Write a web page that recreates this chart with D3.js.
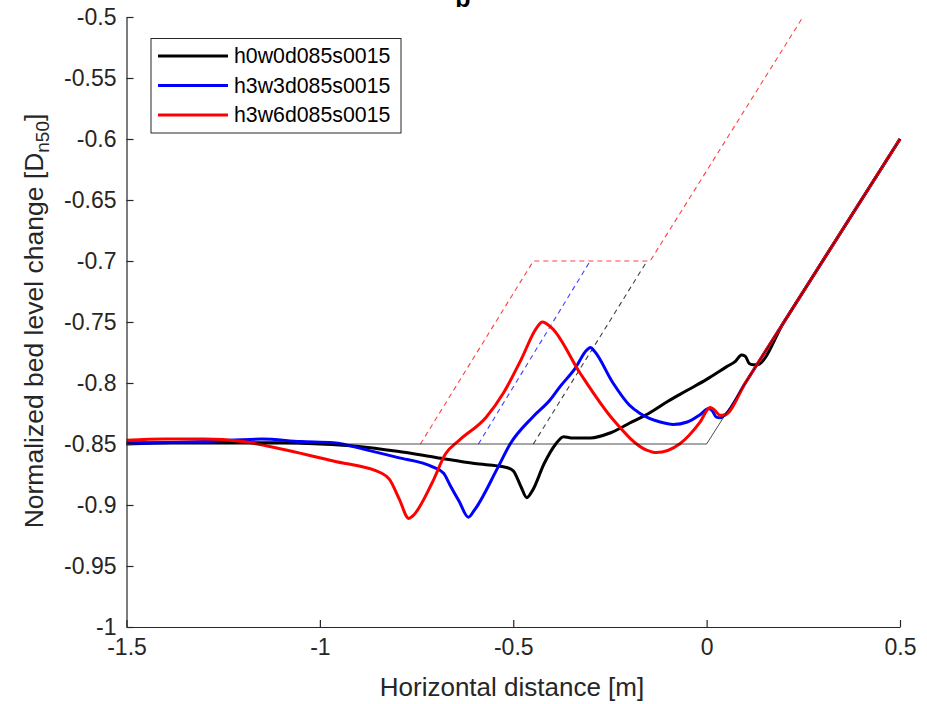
<!DOCTYPE html>
<html><head><meta charset="utf-8">
<script src="https://cdn.jsdelivr.net/npm/d3@7/dist/d3.min.js"></script>
<style>
body{margin:0;background:#fff}
text{font-family:"Liberation Sans",Arial,Helvetica,sans-serif}
</style>
</head><body>
<svg id="chart" width="927" height="704"></svg>
<script>
// ---- data ----
const seriesNames = ["h0w0d085s0015", "h3w3d085s0015", "h3w6d085s0015"];
const seriesColors = ["#000000", "#0000ff", "#ff0000"];

const xBlack = [-1.5,-1.3,-1.1,-1.0,-0.9,-0.8,-0.7,-0.6,-0.52,-0.5,-0.48,-0.465,-0.45,-0.42,-0.39,-0.37,-0.35,-0.3,-0.25,-0.2,-0.15,-0.1,-0.05,0.0,0.05,0.075,0.09,0.1,0.11,0.12,0.13,0.2,0.3,0.4,0.5];
const yBlack = [-0.849,-0.849,-0.849,-0.850,-0.852,-0.856,-0.861,-0.866,-0.869,-0.872,-0.885,-0.894,-0.888,-0.866,-0.850,-0.844,-0.845,-0.845,-0.841,-0.833,-0.825,-0.815,-0.806,-0.797,-0.787,-0.782,-0.777,-0.778,-0.784,-0.785,-0.785,-0.75,-0.70,-0.65,-0.6];

const xBlue = [-1.5,-1.3,-1.15,-1.05,-0.965,-0.877,-0.8,-0.707,-0.68,-0.663,-0.64,-0.616,-0.6,-0.541,-0.508,-0.45,-0.405,-0.379,-0.34,-0.31,-0.3,-0.29,-0.242,-0.2,-0.172,-0.12,-0.086,-0.05,-0.017,0.005,0.015,0.025,0.035,0.048,0.1,0.2,0.3,0.4,0.5];
const yBlue = [-0.850,-0.848,-0.846,-0.848,-0.849,-0.855,-0.861,-0.869,-0.874,-0.884,-0.897,-0.910,-0.904,-0.870,-0.850,-0.828,-0.814,-0.803,-0.788,-0.773,-0.771,-0.774,-0.800,-0.818,-0.825,-0.832,-0.834,-0.832,-0.826,-0.821,-0.823,-0.828,-0.8285,-0.826,-0.80,-0.75,-0.70,-0.65,-0.6];

const xRed = [-1.5,-1.4,-1.3,-1.2,-1.13,-0.965,-0.84,-0.82,-0.795,-0.77,-0.76,-0.71,-0.675,-0.64,-0.57,-0.525,-0.48,-0.44,-0.425,-0.4,-0.327,-0.242,-0.155,-0.13,-0.07,-0.017,0.009,0.02,0.035,0.048,0.1,0.2,0.3,0.4,0.5];
const yRed = [-0.847,-0.846,-0.846,-0.848,-0.852,-0.864,-0.874,-0.879,-0.895,-0.911,-0.909,-0.882,-0.858,-0.847,-0.828,-0.808,-0.781,-0.755,-0.750,-0.755,-0.792,-0.830,-0.855,-0.857,-0.850,-0.832,-0.820,-0.822,-0.8265,-0.826,-0.80,-0.75,-0.70,-0.65,-0.6];

// initial profile (thin black)
const xProfile = [-1.5, 0, 0.5];
const yProfile = [-0.85, -0.85, -0.6];

// structure outlines (dashed)
const xDashBlack = [-0.448, -0.154];
const yDashBlack = [-0.85, -0.70];
const xDashBlue = [-0.590, -0.301];
const yDashBlue = [-0.85, -0.70];
const xDashRed = [-0.740, -0.448, -0.146, 0.249];
const yDashRed = [-0.85, -0.70, -0.70, -0.50];

const xTicks = [-1.5, -1, -0.5, 0, 0.5];
const xTickLabels = ["-1.5", "-1", "-0.5", "0", "0.5"];
const yTicks = [-1, -0.95, -0.9, -0.85, -0.8, -0.75, -0.7, -0.65, -0.6, -0.55, -0.5];
const yTickLabels = ["-1", "-0.95", "-0.9", "-0.85", "-0.8", "-0.75", "-0.7", "-0.65", "-0.6", "-0.55", "-0.5"];

// ---- chart ----
const svg = d3.select("#chart");
const axisColor = "#262626";
const x = d3.scaleLinear().domain([-1.5, 0.5]).range([126.5, 900]);
const y = d3.scaleLinear().domain([-1, -0.5]).range([627, 17]);

const zip = (xs, ys) => xs.map((v, i) => [v, ys[i]]);
const line = d3.line().x(d => x(d[0])).y(d => y(d[1]));
const smooth = d3.line().x(d => x(d[0])).y(d => y(d[1])).curve(d3.curveMonotoneX);

// dashed structure outlines
[[xDashRed, yDashRed, "#ff0000"], [xDashBlue, yDashBlue, "#0000ff"], [xDashBlack, yDashBlack, "#000000"]]
  .forEach(([xs, ys, c]) => {
    svg.append("path").attr("d", line(zip(xs, ys)))
      .attr("fill", "none").attr("stroke", c).attr("stroke-width", 1.1)
      .attr("stroke-dasharray", "5,4").attr("opacity", 0.75);
  });

// curves
const seriesX = [xBlack, xBlue, xRed];
const seriesY = [yBlack, yBlue, yRed];
seriesNames.forEach((n, i) => {
  svg.append("path").attr("d", smooth(zip(seriesX[i], seriesY[i])))
    .attr("fill", "none").attr("stroke", seriesColors[i]).attr("stroke-width", 3)
    .attr("stroke-linejoin", "round");
});

// initial profile on top
svg.append("path").attr("d", line(zip(xProfile, yProfile)))
  .attr("fill", "none").attr("stroke", "#000").attr("stroke-width", 1).attr("opacity", 0.7);

// axes
const gx = svg.append("g").attr("transform", "translate(0,627)")
  .call(d3.axisBottom(x).tickValues(xTicks).tickFormat((d, i) => xTickLabels[i])
    .tickSizeInner(-7).tickSizeOuter(0).tickPadding(12));
const gy = svg.append("g").attr("transform", "translate(126.5,0)")
  .call(d3.axisLeft(y).tickValues(yTicks).tickFormat((d, i) => yTickLabels[i])
    .tickSizeInner(-7).tickSizeOuter(0).tickPadding(10));
[gx, gy].forEach(g => {
  g.select(".domain").attr("stroke", axisColor).attr("stroke-width", 1.2);
  g.selectAll(".tick line").attr("stroke", axisColor).attr("stroke-width", 1.2);
  g.selectAll(".tick text").attr("fill", axisColor).style("font-size", "23px")
    .style("font-family", "'Liberation Sans',Arial,sans-serif");
});

// axis labels
svg.append("text").attr("x", 512).attr("y", 696).attr("text-anchor", "middle")
  .attr("fill", axisColor).style("font-size", "26px").text("Horizontal distance [m]");
const yl = svg.append("text").attr("transform", "translate(43,321) rotate(-90)")
  .attr("text-anchor", "middle").attr("fill", axisColor).style("font-size", "26.5px");
yl.append("tspan").text("Normalized bed level change [D");
yl.append("tspan").attr("dy", 6).style("font-size", "19px").text("n50");
yl.append("tspan").attr("dy", -6).text("]");

// title
svg.append("text").attr("x", 463).attr("y", 7).attr("text-anchor", "middle")
  .attr("fill", "#000").style("font-size", "25px").style("font-weight", "bold").text("b");

// legend
const lg = svg.append("g");
lg.append("rect").attr("x", 151).attr("y", 38.5).attr("width", 250).attr("height", 94.5)
  .attr("fill", "#fff").attr("stroke", axisColor).attr("stroke-width", 1);
seriesNames.forEach((n, i) => {
  const yy = 56 + i * 29.5;
  lg.append("line").attr("x1", 158).attr("x2", 228).attr("y1", yy).attr("y2", yy)
    .attr("stroke", seriesColors[i]).attr("stroke-width", 3);
  lg.append("text").attr("x", 234).attr("y", yy + 7).attr("fill", "#000")
    .style("font-size", "21.3px").text(n);
});
</script>
</body></html>
